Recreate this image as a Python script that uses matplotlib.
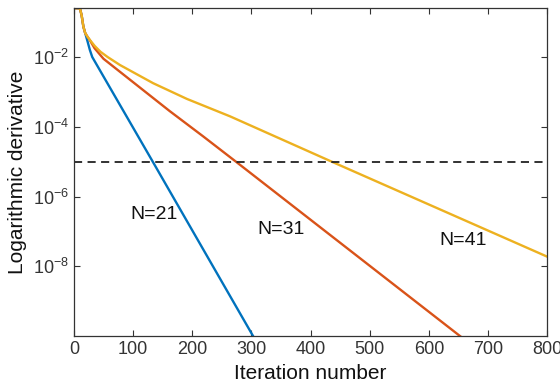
import matplotlib
matplotlib.use("Agg")
import matplotlib.pyplot as plt
import numpy as np

plt.rcParams['font.family'] = ['Liberation Sans', 'DejaVu Sans']
plt.rcParams['mathtext.fontset'] = 'custom'
plt.rcParams['mathtext.rm'] = 'Liberation Sans'
plt.rcParams['mathtext.it'] = 'Liberation Sans'

# ---- data (iteration, log10 of derivative) ----
it_21 = [0, 10, 13, 16, 19, 23, 27, 31, 134, 303]
lg_21 = [-0.6, -0.6, -0.8, -1.13, -1.31, -1.55, -1.8, -2.0, -5.02, -10.0]

it_31 = [0, 10, 13, 16, 19, 23, 27, 35, 50, 106, 162, 219, 274, 653]
lg_31 = [-0.6, -0.6, -0.8, -1.13, -1.31, -1.42, -1.52, -1.75, -2.05, -2.8, -3.55, -4.28, -5.0, -10.0]

it_41 = [0, 10, 13, 16, 19, 23, 27, 35, 45, 57, 78, 134, 191, 264, 436, 800]
lg_41 = [-0.6, -0.6, -0.8, -1.13, -1.31, -1.42, -1.51, -1.68, -1.85, -2.0, -2.23, -2.75, -3.2, -3.7, -5.0, -7.72]

threshold = 1e-5
labels = ["N=21", "N=31", "N=41"]
colors = ["#0072BD", "#D95319", "#EDB120"]

fig = plt.figure(figsize=(5.6, 3.9), dpi=100)
ax = fig.add_axes([0.132, 0.138, 0.845, 0.841])

for its, lgs, c in zip([it_21, it_31, it_41], [lg_21, lg_31, lg_41], colors):
    ax.plot(its, 10.0 ** np.array(lgs), color=c, lw=1.7)

ax.axhline(threshold, color="#222222", lw=1.3, ls=(0, (4.5, 3)))

ax.set_yscale("log")
ax.set_xlim(0, 800)
ax.set_ylim(1e-10, 10 ** -0.6)
ax.set_yticks([1e-8, 1e-6, 1e-4, 1e-2])
ax.set_yticklabels([r"$10^{-8}$", r"$10^{-6}$", r"$10^{-4}$", r"$10^{-2}$"])
ax.yaxis.set_minor_locator(matplotlib.ticker.NullLocator())
ax.set_xticks(np.arange(0, 801, 100))

ax.tick_params(direction="in", top=True, right=True, length=4, width=0.8,
               labelsize=13, colors="#333333", labelcolor="#333333")
for s in ax.spines.values():
    s.set_color("#333333")
    s.set_linewidth(0.9)

ax.set_xlabel("Iteration number", fontsize=15, color="#111111", labelpad=4)
ax.set_ylabel("Logarithmic derivative", fontsize=15, color="#111111", labelpad=4)

# curve labels
ax.text(135, 10 ** -6.51, labels[0], fontsize=14, ha="center", va="center", color="#111111")
ax.text(350, 10 ** -6.94, labels[1], fontsize=14, ha="center", va="center", color="#111111")
ax.text(658, 10 ** -7.26, labels[2], fontsize=14, ha="center", va="center", color="#111111")

fig.savefig("out.png", dpi=100)
